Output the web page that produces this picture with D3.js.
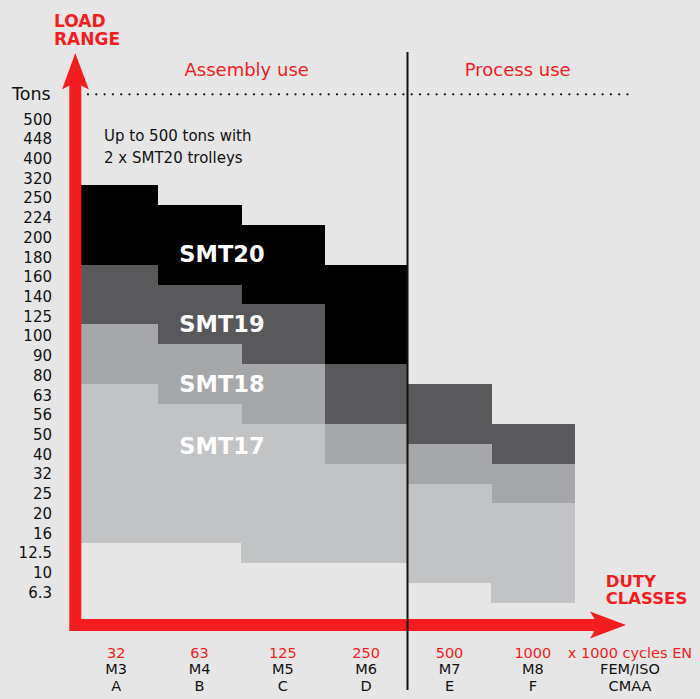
<!DOCTYPE html>
<html>
<head>
<meta charset="utf-8">
<script src="https://cdn.jsdelivr.net/npm/d3@7"></script>
<style>
  html, body { margin: 0; padding: 0; background: #e6e6e6; }
  svg { display: block; }
  text { font-family: "DejaVu Sans", sans-serif; }
</style>
</head>
<body>
<svg id="chart" width="700" height="699"></svg>
<script>
// ---------- DATA ----------
const tonLabels = ["500","448","400","320","250","224","200","180","160","140","125","100","90","80","63","56","50","40","32","25","20","16","12.5","10","6.3"];
const dutyClasses = ["A","B","C","D","E","F"];          // CMAA
const femIso = ["M3","M4","M5","M6","M7","M8"];          // FEM/ISO
const cyclesEN = ["32","63","125","250","500","1000"];   // x 1000 cycles EN
const seriesNames = ["SMT20","SMT19","SMT18","SMT17"];
// [top tonnage row, bottom tonnage row] per duty class (null = not offered)
const smt20 = [["250","180"],["224","160"],["200","140"],["160","90"],null,null];
const smt19 = [["160","125"],["140","100"],["125","90"],["80","56"],["63","50"],["50","40"]];
const smt18 = [["100","80"],["90","63"],["80","56"],["50","40"],["40","32"],["32","25"]];
const smt17 = [["63","16"],["56","16"],["50","12.5"],["32","12.5"],["25","10"],["20","6.3"]];
const seriesColors = ["#000000","#59595b","#a6a7a9","#c2c3c5"];
const sectionLabels = ["Assembly use","Process use"];

// ---------- CHART ----------
const svg = d3.select("#chart");
const RED = "#f41c1f";

svg.append("rect").attr("width",700).attr("height",699).attr("fill","#e6e6e6");

const x = d3.scaleBand().domain(dutyClasses).range([74.5, 574.5]);
const yRow = d3.scaleBand().domain(tonLabels).range([105.4, 603]);
const yLabel = d3.scalePoint().domain(tonLabels).range([124.5, 597.8]);

const allSeries = [smt20, smt19, smt18, smt17];
const blocks = [];
allSeries.forEach((s, si) => {
  s.forEach((r, ci) => {
    if (r) blocks.push({ series: seriesNames[si], si, cls: dutyClasses[ci], top: r[0], bottom: r[1] });
  });
});

svg.append("g").attr("shape-rendering","crispEdges").selectAll("rect").data(blocks).join("rect")
  .attr("x", d => x(d.cls))
  .attr("width", x.bandwidth() + 0.5)
  .attr("y", d => yRow(d.top))
  .attr("height", d => yRow(d.bottom) + yRow.bandwidth() - yRow(d.top))
  .attr("fill", d => seriesColors[d.si]);

// series labels
const seriesLabelY = [262.3, 331.7, 391.7, 454.3];
svg.append("g").selectAll("text").data(seriesNames).join("text")
  .attr("x", 222).attr("y", (d,i) => seriesLabelY[i])
  .attr("text-anchor","middle")
  .attr("fill","#fff")
  .attr("font-weight","bold")
  .attr("font-size", 22.5)
  .text(d => d);

// y tick labels
svg.append("g").selectAll("text").data(tonLabels).join("text")
  .attr("x", 52).attr("y", d => yLabel(d))
  .attr("text-anchor","end")
  .attr("font-size", 15)
  .attr("fill","#111")
  .text(d => d);

svg.append("text").attr("x", 12).attr("y", 100)
  .attr("font-size", 17.5).attr("fill","#111").text("Tons");

// annotation
svg.append("text").attr("x",104).attr("y",140.7).attr("font-size",15).attr("fill","#111").text("Up to 500 tons with");
svg.append("text").attr("x",104).attr("y",162.7).attr("font-size",15).attr("fill","#111").text("2 x SMT20 trolleys");

// section labels
svg.append("text").attr("x",246.7).attr("y",76).attr("text-anchor","middle")
  .attr("font-size",18).attr("fill",RED).text(sectionLabels[0]);
svg.append("text").attr("x",517.7).attr("y",76).attr("text-anchor","middle")
  .attr("font-size",18).attr("fill",RED).text(sectionLabels[1]);

// dotted line
svg.append("line").attr("x1",88).attr("x2",628).attr("y1",94.3).attr("y2",94.3)
  .attr("stroke","#111").attr("stroke-width",2.3)
  .attr("stroke-linecap","round").attr("stroke-dasharray","0 8.3");

// red axes arrows
svg.append("path")
  .attr("d","M69.3,631 L69.3,85.5 L62,89.5 L75.3,53 L88.8,89.5 L81.3,85.5 L81.3,619 L594.5,619 L590,611.5 L626,625 L590,638.5 L594.5,631 Z")
  .attr("fill", RED);

// black divider
svg.append("line").attr("x1",407.5).attr("x2",407.5).attr("y1",52).attr("y2",690)
  .attr("stroke","#111").attr("stroke-width",2);

// axis titles
svg.append("text").attr("x",54).attr("y",26.7).attr("font-weight","bold").attr("font-size",17).attr("fill",RED).text("LOAD");
svg.append("text").attr("x",54).attr("y",45).attr("font-weight","bold").attr("font-size",17).attr("fill",RED).text("RANGE");
svg.append("text").attr("x",605.7).attr("y",587.3).attr("font-weight","bold").attr("font-size",16.5).attr("fill",RED).text("DUTY");
svg.append("text").attr("x",605.7).attr("y",604.3).attr("font-weight","bold").attr("font-size",16.5).attr("fill",RED).text("CLASSES");

// x labels
const xl = svg.append("g");
xl.selectAll("text.en").data(cyclesEN).join("text").attr("class","en")
  .attr("x",(d,i)=>x(dutyClasses[i])+x.bandwidth()/2).attr("y",658.3)
  .attr("text-anchor","middle").attr("font-size",14.5).attr("fill",RED).text(d=>d);
xl.selectAll("text.fem").data(femIso).join("text").attr("class","fem")
  .attr("x",(d,i)=>x(dutyClasses[i])+x.bandwidth()/2).attr("y",674.3)
  .attr("text-anchor","middle").attr("font-size",14.5).attr("fill","#111").text(d=>d);
xl.selectAll("text.cmaa").data(dutyClasses).join("text").attr("class","cmaa")
  .attr("x",d=>x(d)+x.bandwidth()/2).attr("y",691)
  .attr("text-anchor","middle").attr("font-size",14.5).attr("fill","#111").text(d=>d);

svg.append("text").attr("x",630).attr("y",658.3).attr("text-anchor","middle").attr("font-size",14.5).attr("fill",RED).text("x 1000 cycles EN");
svg.append("text").attr("x",630).attr("y",674.3).attr("text-anchor","middle").attr("font-size",14.5).attr("fill","#111").text("FEM/ISO");
svg.append("text").attr("x",630).attr("y",691).attr("text-anchor","middle").attr("font-size",14.5).attr("fill","#111").text("CMAA");
</script>
</body>
</html>
